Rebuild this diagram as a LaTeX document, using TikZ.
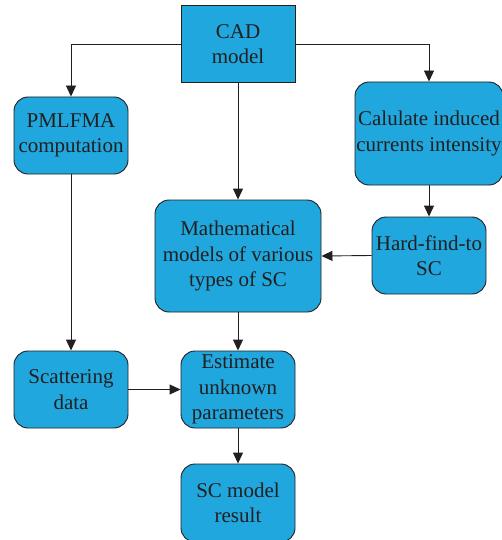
\documentclass[tikz,border=0pt]{standalone}
\usepackage{fontspec}
\setmainfont{Liberation Serif}
\usetikzlibrary{arrows.meta}
\definecolor{boxfill}{RGB}{31,167,222}
\definecolor{ink}{RGB}{35,31,32}
\begin{document}
\begin{tikzpicture}[x=1pt,y=-1pt,
  box/.style={draw=ink, fill=boxfill, line width=0.9pt, rounded corners=14pt,
    inner sep=0pt, align=center, text=ink, font=\fontsize{21}{25.5}\selectfont},
  sqbox/.style={box, rounded corners=0pt},
  arr/.style={draw=ink, line width=0.9pt, -{Triangle[length=11pt,width=10pt]}}]
\useasboundingbox (0,0) rectangle (501,540);
\node[sqbox, minimum width=114pt, minimum height=77pt] (cad) at (238,44) {CAD\\model};
\node[box, minimum width=114pt, minimum height=77pt] (pml) at (71,135.5) {PMLFMA\\computation};
\node[box, minimum width=148pt, minimum height=103pt] (cal) at (429,133.5) {Calulate induced\\currents intensity};
\node[box, minimum width=166pt, minimum height=112pt] (math) at (238,256) {Mathematical\\models of various\\types of SC};
\node[box, minimum width=114pt, minimum height=77pt] (hard) at (429,255.5) {Hard-find-to\\SC};
\node[box, minimum width=114pt, minimum height=77pt] (scat) at (71,389.5) {Scattering\\data};
\node[box, minimum width=114pt, minimum height=77pt] (est) at (238,389.5) {Estimate\\unknown\\parameters};
\node[box, minimum width=114pt, minimum height=78pt] (res) at (238,503) {SC model\\result};
\draw[arr] (cad.west) -| (pml.north);
\draw[arr] (cad.east) -| (cal.north);
\draw[arr] (cad.south) -- (math.north);
\draw[arr] (cal.south) -- (hard.north);
\draw[arr] (hard.west) -- (math.east);
\draw[arr] (math.south) -- (est.north);
\draw[arr] (pml.south) -- (scat.north);
\draw[arr] (scat.east) -- (est.west);
\draw[arr] (est.south) -- (res.north);
\end{tikzpicture}
\end{document}
